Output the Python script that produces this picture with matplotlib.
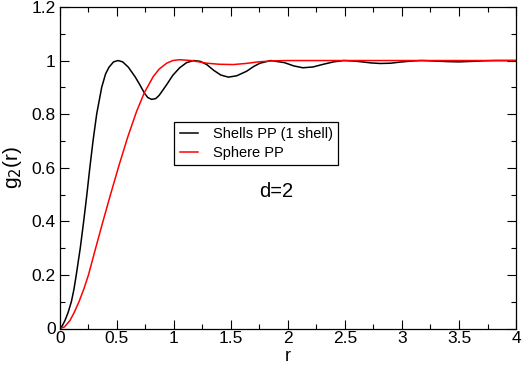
import matplotlib
matplotlib.use("Agg")
from matplotlib import pyplot as plt
from matplotlib.ticker import MultipleLocator, FormatStrFormatter

plt.rcParams['font.family'] = ['Liberation Sans', 'DejaVu Sans']

## Data ##
r_shell = [0.0, 0.02, 0.044, 0.07, 0.1, 0.122, 0.143, 0.178, 0.208, 0.236,
           0.262, 0.29, 0.322, 0.366, 0.40, 0.43, 0.47, 0.51, 0.55, 0.60,
           0.658, 0.70, 0.74, 0.77, 0.804, 0.84, 0.87, 0.90, 0.936, 0.99,
           1.05, 1.11, 1.17, 1.23, 1.287, 1.35, 1.41, 1.477, 1.55, 1.637,
           1.70, 1.754, 1.85, 1.97, 2.05, 2.13, 2.22, 2.30, 2.40, 2.49,
           2.58, 2.65, 2.73, 2.81, 2.90, 2.98, 3.08, 3.17, 3.30, 3.40,
           3.50, 3.62, 3.72, 3.83, 4.0]
g_shell = [0.0, 0.01, 0.03, 0.058, 0.1, 0.145, 0.2, 0.3, 0.4, 0.5,
           0.6, 0.7, 0.8, 0.9, 0.95, 0.975, 0.995, 1.0, 0.995, 0.975,
           0.94, 0.91, 0.879, 0.862, 0.855, 0.858, 0.87, 0.888, 0.91, 0.945,
           0.973, 0.992, 1.0, 0.997, 0.985, 0.963, 0.946, 0.938, 0.943, 0.96,
           0.978, 0.99, 1.0, 0.992, 0.98, 0.973, 0.976, 0.985, 0.995, 1.0,
           0.998, 0.995, 0.991, 0.989, 0.99, 0.994, 0.998, 1.0, 0.998, 0.996,
           0.995, 0.997, 0.999, 1.0, 1.0]

r_sphere = [0.0, 0.04, 0.088, 0.125, 0.167, 0.21, 0.25, 0.31, 0.374, 0.44,
            0.52, 0.594, 0.672, 0.74, 0.818, 0.87, 0.936, 0.99, 1.05,
            1.15, 1.287, 1.40, 1.52, 1.63, 1.74, 1.87, 2.0, 2.5, 3.0, 3.5, 4.0]
g_sphere = [0.0, 0.006, 0.03, 0.06, 0.1, 0.148, 0.2, 0.295, 0.395, 0.495,
            0.612, 0.714, 0.81, 0.88, 0.94, 0.968, 0.99, 1.0, 1.003,
            1.0, 0.99, 0.986, 0.985, 0.989, 0.995, 0.999, 1.0, 1.0, 1.0, 1.0, 1.0]

labels = ["Shells PP (1 shell)", "Sphere PP"]

fig = plt.figure(figsize=(5.26, 3.65), dpi=100)
ax = fig.add_axes([0.114, 0.1, 0.867, 0.881])

ax.plot(r_shell, g_shell, color='black', lw=1.1, label=labels[0])
ax.plot(r_sphere, g_sphere, color='red', lw=1.1, label=labels[1])

ax.set_xlim(0, 4)
ax.set_ylim(0, 1.2)
ax.xaxis.set_major_locator(MultipleLocator(0.5))
ax.xaxis.set_minor_locator(MultipleLocator(0.25))
ax.yaxis.set_major_locator(MultipleLocator(0.2))
ax.yaxis.set_minor_locator(MultipleLocator(0.1))
ax.xaxis.set_major_formatter(FormatStrFormatter('%g'))
ax.yaxis.set_major_formatter(FormatStrFormatter('%g'))

ax.tick_params(which='both', direction='in', top=True, right=True,
               width=0.8, labelsize=12.5, pad=3)
ax.tick_params(axis='x', which='major', pad=2)
ax.tick_params(which='major', length=6.5)
ax.tick_params(which='minor', length=3.6)
for s in ax.spines.values():
    s.set_linewidth(0.9)

ax.set_xlabel("r", fontsize=13)
ax.set_ylabel(r"g$_2$(r)", fontsize=15)
ax.xaxis.set_label_coords(0.5, -0.101)
ax.xaxis.label.set_va('baseline')
ax.yaxis.set_label_coords(-0.078, 0.5)

leg = ax.legend(loc='upper left', bbox_to_anchor=(0.251, 0.641), borderaxespad=0,
                fontsize=10.5, fancybox=False, edgecolor='black', framealpha=1,
                handlelength=1.3, handletextpad=1.0, labelspacing=0.3, borderpad=0.35)
leg.get_frame().set_linewidth(0.9)

ax.text(1.9, 0.511, "d=2", fontsize=14.5, ha='center', va='center')

fig.savefig("out.png", dpi=100)
